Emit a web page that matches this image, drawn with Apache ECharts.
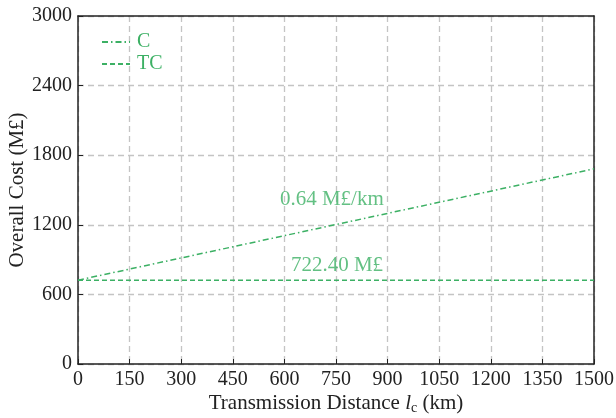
<!DOCTYPE html>
<html><head><meta charset="utf-8">
<script src="https://cdn.jsdelivr.net/npm/echarts@6/dist/echarts.min.js"></script>
<style>html,body{margin:0;padding:0;background:#fff}#c{width:616px;height:418px}</style>
</head><body><div id="c"></div>
<script>
const xTicks = [0,150,300,450,600,750,900,1050,1200,1350,1500];
const yTicks = [0,600,1200,1800,2400,3000];
const distance = [0, 1500];
const costC = [722.4, 1682.4];
const costTC = [722.4, 722.4];
const slopeLabel = '0.64 M£/km';
const tcLabel = '722.40 M£';
const annotations = [
  {text: slopeLabel, x: 738, y: 1414},
  {text: tcLabel, x: 753, y: 853}
];

const green = '#3CB064';
const font = 'Liberation Serif';
const frameAxis = {
  min: 0, axisLine: {show: true, onZero: false, lineStyle: {color: '#222', width: 1.5}},
  axisTick: {show: false}, axisLabel: {show: false}, splitLine: {show: false}
};
const chart = echarts.init(document.getElementById('c'));
chart.setOption({
  animation: false,
  textStyle: {fontFamily: font},
  grid: {left: 78, right: 22, top: 16, bottom: 54, outerBoundsMode: 'none', containLabel: false},
  legend: {
    left: 96, top: 27, orient: 'vertical', itemGap: 2, itemWidth: 28, itemHeight: 10,
    itemStyle: {opacity: 0},
    textStyle: {color: green, fontSize: 20, fontFamily: font, padding: [0, 0, 0, 2]},
    data: ['C', 'TC']
  },
  xAxis: [{
    type: 'value', min: xTicks[0], max: xTicks[xTicks.length - 1], interval: 150,
    axisLine: {onZero: false, lineStyle: {color: '#222', width: 1.5}},
    axisTick: {inside: true, length: 5, lineStyle: {color: '#222'}},
    axisLabel: {color: '#222', fontSize: 20, fontFamily: font, margin: 6, formatter: v => String(v)},
    splitLine: {show: true, lineStyle: {color: '#c4c4c4', type: [6, 4], width: 1.3}},
    name: '{a|Transmission Distance }{i|l}{s|c}{a| (km)}',
    nameLocation: 'middle', nameGap: 27, nameMoveOverlap: false,
    nameTextStyle: {
      rich: {
        a: {fontSize: 21, color: '#222', fontFamily: font},
        i: {fontSize: 21, color: '#222', fontFamily: font, fontStyle: 'italic'},
        s: {fontSize: 14, color: '#222', fontFamily: font, verticalAlign: 'bottom', padding: [10, 0, 0, 0]}
      }
    }
  }, Object.assign({type: 'value', position: 'top', max: 1500}, frameAxis)],
  yAxis: [{
    type: 'value', min: yTicks[0], max: yTicks[yTicks.length - 1], interval: 600,
    axisLine: {show: true, onZero: false, lineStyle: {color: '#222', width: 1.5}},
    axisTick: {show: true, inside: true, length: 5, lineStyle: {color: '#222'}},
    axisLabel: {color: '#222', fontSize: 20, fontFamily: font, margin: 6, formatter: v => String(v)},
    splitLine: {show: true, lineStyle: {color: '#c4c4c4', type: [6, 4], width: 1.3}},
    name: 'Overall Cost (M£)', nameLocation: 'middle', nameGap: 50, nameMoveOverlap: false,
    nameTextStyle: {fontSize: 21, color: '#222', fontFamily: font}
  }, Object.assign({type: 'value', position: 'right', max: 3000}, frameAxis)],
  series: [
    {
      name: 'C', type: 'line', symbol: 'none', color: green,
      data: distance.map((d, i) => [d, costC[i]]),
      lineStyle: {color: green, width: 1.5, type: [6, 3, 1.5, 3]}
    },
    {
      name: 'TC', type: 'line', symbol: 'none', color: green,
      data: distance.map((d, i) => [d, costTC[i]]),
      lineStyle: {color: green, width: 1.5, type: [5, 3]}
    },
    {
      name: 'labels', type: 'scatter', symbolSize: 0, silent: true,
      data: annotations.map(a => ({value: [a.x, a.y], label: {show: true, position: 'inside', formatter: a.text}})),
      label: {color: green, fontSize: 21, fontFamily: font}
    }
  ]
});
</script></body></html>
